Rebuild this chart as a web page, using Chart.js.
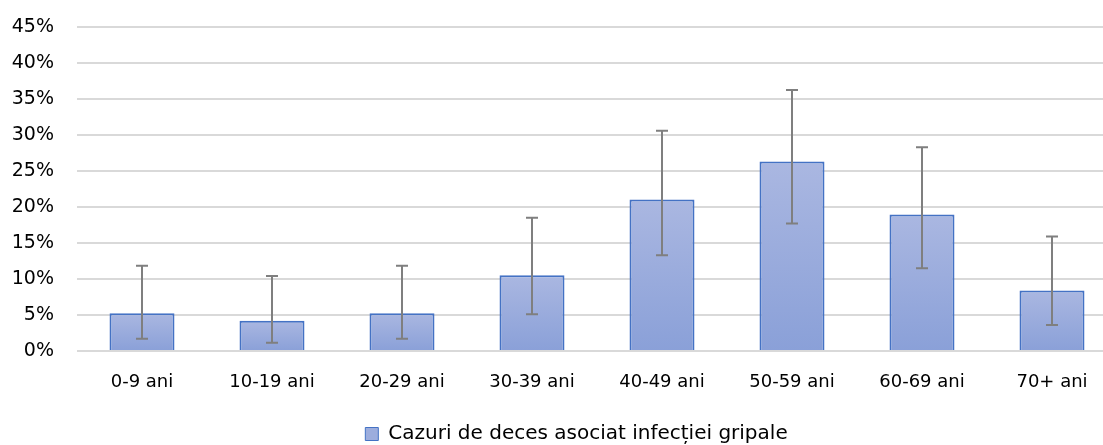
<!DOCTYPE html>
<html>
<head>
<meta charset="utf-8">
<script src="https://cdn.jsdelivr.net/npm/chart.js@4.4.0/dist/chart.umd.min.js"></script>
<style>
    html, body { margin: 0; padding: 0; background: #fff; overflow: hidden; }
    #wrap { width: 1140px; height: 454px; }
</style>
</head>
<body>
<div id="wrap"><canvas id="chart"></canvas></div>
<script>
// Age groups and share of deaths (%)
const ageGroups = ['0-9 ani', '10-19 ani', '20-29 ani', '30-39 ani', '40-49 ani', '50-59 ani', '60-69 ani', '70+ ani'];
const deathShare = [5.26, 4.21, 5.26, 10.53, 21.05, 26.32, 18.95, 8.42];
// Confidence interval bounds (%)
const ciLow = [1.7, 1.15, 1.7, 5.1, 13.3, 17.7, 11.5, 3.6];
const ciHigh = [11.85, 10.4, 11.85, 18.5, 30.6, 36.25, 28.3, 15.9];
const yTicks = [0, 5, 10, 15, 20, 25, 30, 35, 40, 45];

const FONT = "'DejaVu Sans', sans-serif";

// Per-bar vertical gradient (lighter top, darker bottom)
function barGradient(context) {
    const chart = context.chart;
    if (!chart.chartArea) return '#98aadc';
    const y = chart.scales.y;
    const top = y.getPixelForValue(context.raw ?? 0);
    const bottom = y.getPixelForValue(0);
    const g = chart.ctx.createLinearGradient(0, top, 0, bottom === top ? top + 1 : bottom);
    g.addColorStop(0, '#aab7e1');
    g.addColorStop(1, '#8aa0d8');
    return g;
}

// Draw the error bars on top of the bars
const errorBars = {
    id: 'errorBars',
    afterDatasetsDraw(chart) {
        const ctx = chart.ctx;
        const y = chart.scales.y;
        const meta = chart.getDatasetMeta(0);
        ctx.save();
        ctx.strokeStyle = '#7f7f7f';
        ctx.lineWidth = 2;
        meta.data.forEach((bar, i) => {
            const x = Math.round(bar.x);
            const yh = y.getPixelForValue(ciHigh[i]);
            const yl = y.getPixelForValue(ciLow[i]);
            ctx.beginPath();
            ctx.moveTo(x, yh); ctx.lineTo(x, yl);
            ctx.moveTo(x - 6, yh); ctx.lineTo(x + 6, yh);
            ctx.moveTo(x - 6, yl); ctx.lineTo(x + 6, yl);
            ctx.stroke();
        });
        ctx.restore();
    }
};

// Shift the legend a little to the right, like the original
const legendNudge = {
    id: 'legendNudge',
    afterLayout(chart) {
        chart.legend.left += 13;
        chart.legend.right += 13;
    }
};

new Chart(document.getElementById('chart').getContext('2d'), {
    type: 'bar',
    data: {
        labels: ageGroups,
        datasets: [{
            label: 'Cazuri de deces asociat infecției gripale',
            data: deathShare,
            backgroundColor: barGradient,
            borderColor: '#4472c4',
            borderWidth: 2,
            borderSkipped: 'bottom',
            categoryPercentage: 1,
            barPercentage: 0.5
        }]
    },
    options: {
        responsive: true,
        maintainAspectRatio: false,
        animation: false,
        layout: { padding: { top: 0, left: 10, right: 23, bottom: 0 } },
        plugins: {
            tooltip: { enabled: false },
            legend: {
                position: 'bottom',
                labels: {
                    color: '#000',
                    font: { family: FONT, size: 20 },
                    boxWidth: 13,
                    boxHeight: 13,
                    padding: 0,
                    generateLabels(chart) {
                        return [{
                            text: chart.data.datasets[0].label,
                            fillStyle: '#9caddd',
                            strokeStyle: '#4472c4',
                            lineWidth: 1,
                            datasetIndex: 0
                        }];
                    }
                }
            }
        },
        scales: {
            x: {
                grid: { display: false },
                border: { display: false },
                ticks: { color: '#000', font: { family: FONT, size: 18 }, padding: 13 },
                afterFit(axis) { axis.height = 73; }
            },
            y: {
                min: 0,
                max: 45,
                afterBuildTicks(axis) { axis.ticks = yTicks.map(v => ({ value: v })); },
                grid: { color: '#d9d9d9', lineWidth: 2, drawTicks: false },
                border: { display: false },
                ticks: {
                    color: '#000',
                    font: { family: FONT, size: 19 },
                    padding: 23,
                    callback: v => v + '%'
                },
                afterFit(axis) {
                    axis.width = 67;
                    axis.paddingTop = 27;
                    axis.paddingBottom = 10;
                }
            }
        }
    },
    plugins: [errorBars, legendNudge]
});
</script>
</body>
</html>
